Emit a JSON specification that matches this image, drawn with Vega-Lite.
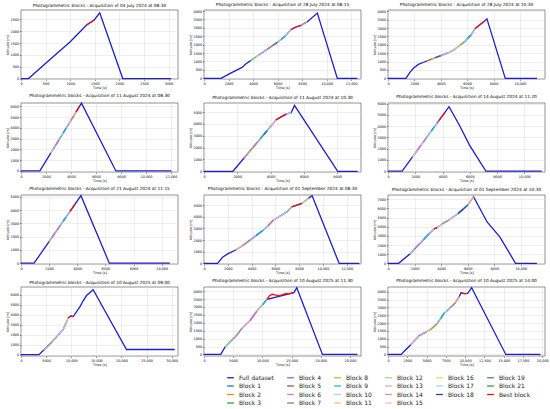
{
  "$schema": "https://vega.github.io/schema/vega-lite/v6.json",
  "padding": {"left": 4, "top": 2, "right": 2, "bottom": 2},
  "background": "white",
  "data": {"values": [
    {"p":1,"s":"Full dataset","t":0,"a":0},{"p":1,"s":"Full dataset","t":153,"a":0},{"p":1,"s":"Full dataset","t":520,"a":680},{"p":1,"s":"Full dataset","t":1000,"a":1560},{"p":1,"s":"Full dataset","t":1333,"a":2265},{"p":1,"s":"Full dataset","t":1487,"a":2480},{"p":1,"s":"Full dataset","t":1600,"a":2780},{"p":1,"s":"Full dataset","t":2067,"a":0},{"p":1,"s":"Full dataset","t":3050,"a":0},
    {"p":1,"s":"Best block","t":1333,"a":2265},{"p":1,"s":"Best block","t":1487,"a":2480},

    {"p":2,"s":"Full dataset","t":0,"a":0},{"p":2,"s":"Full dataset","t":1390,"a":0},{"p":2,"s":"Full dataset","t":2100,"a":280},{"p":2,"s":"Full dataset","t":3100,"a":650},{"p":2,"s":"Full dataset","t":3400,"a":850},{"p":2,"s":"Full dataset","t":3800,"a":1050},{"p":2,"s":"Full dataset","t":4200,"a":1250},{"p":2,"s":"Full dataset","t":4500,"a":1400},{"p":2,"s":"Full dataset","t":5200,"a":1750},{"p":2,"s":"Full dataset","t":5600,"a":1950},{"p":2,"s":"Full dataset","t":6000,"a":2150},{"p":2,"s":"Full dataset","t":6300,"a":2320},{"p":2,"s":"Full dataset","t":6600,"a":2500},{"p":2,"s":"Full dataset","t":7100,"a":2900},{"p":2,"s":"Full dataset","t":7500,"a":3050},{"p":2,"s":"Full dataset","t":7900,"a":3150},{"p":2,"s":"Full dataset","t":8400,"a":3350},{"p":2,"s":"Full dataset","t":9240,"a":3880},{"p":2,"s":"Full dataset","t":10870,"a":0},{"p":2,"s":"Full dataset","t":12500,"a":0},
    {"p":2,"s":"Block 12","t":3800,"a":1050},{"p":2,"s":"Block 12","t":4200,"a":1250},
    {"p":2,"s":"Block 16","t":4200,"a":1250},{"p":2,"s":"Block 16","t":4500,"a":1400},
    {"p":2,"s":"Block 13","t":4500,"a":1400},{"p":2,"s":"Block 13","t":5200,"a":1750},
    {"p":2,"s":"Block 6","t":5200,"a":1750},{"p":2,"s":"Block 6","t":5600,"a":1950},
    {"p":2,"s":"Block 7","t":5600,"a":1950},{"p":2,"s":"Block 7","t":6000,"a":2150},
    {"p":2,"s":"Block 17","t":6000,"a":2150},{"p":2,"s":"Block 17","t":6300,"a":2320},
    {"p":2,"s":"Block 9","t":6300,"a":2320},{"p":2,"s":"Block 9","t":6600,"a":2500},
    {"p":2,"s":"Block 10","t":6600,"a":2500},{"p":2,"s":"Block 10","t":7100,"a":2900},
    {"p":2,"s":"Best block","t":7100,"a":2900},{"p":2,"s":"Best block","t":7500,"a":3050},{"p":2,"s":"Best block","t":7900,"a":3150},
    {"p":2,"s":"Block 14","t":7900,"a":3150},{"p":2,"s":"Block 14","t":8400,"a":3350},

    {"p":3,"s":"Full dataset","t":0,"a":0},{"p":3,"s":"Full dataset","t":1360,"a":0},{"p":3,"s":"Full dataset","t":1700,"a":400},{"p":3,"s":"Full dataset","t":1950,"a":620},{"p":3,"s":"Full dataset","t":2300,"a":830},{"p":3,"s":"Full dataset","t":2700,"a":960},{"p":3,"s":"Full dataset","t":3000,"a":1050},{"p":3,"s":"Full dataset","t":3300,"a":1150},{"p":3,"s":"Full dataset","t":3600,"a":1240},{"p":3,"s":"Full dataset","t":4000,"a":1360},{"p":3,"s":"Full dataset","t":4500,"a":1500},{"p":3,"s":"Full dataset","t":5000,"a":1700},{"p":3,"s":"Full dataset","t":5500,"a":2000},{"p":3,"s":"Full dataset","t":5750,"a":2150},{"p":3,"s":"Full dataset","t":6000,"a":2350},{"p":3,"s":"Full dataset","t":6300,"a":2600},{"p":3,"s":"Full dataset","t":6600,"a":2970},{"p":3,"s":"Full dataset","t":7330,"a":3420},{"p":3,"s":"Full dataset","t":7500,"a":3550},{"p":3,"s":"Full dataset","t":8890,"a":0},{"p":3,"s":"Full dataset","t":11300,"a":0},
    {"p":3,"s":"Block 2","t":3000,"a":1050},{"p":3,"s":"Block 2","t":3300,"a":1150},
    {"p":3,"s":"Block 12","t":3300,"a":1150},{"p":3,"s":"Block 12","t":3600,"a":1240},
    {"p":3,"s":"Block 5","t":3600,"a":1240},{"p":3,"s":"Block 5","t":4000,"a":1360},
    {"p":3,"s":"Block 13","t":4000,"a":1360},{"p":3,"s":"Block 13","t":4500,"a":1500},
    {"p":3,"s":"Block 15","t":4500,"a":1500},{"p":3,"s":"Block 15","t":5000,"a":1700},
    {"p":3,"s":"Block 16","t":5000,"a":1700},{"p":3,"s":"Block 16","t":5500,"a":2000},
    {"p":3,"s":"Block 8","t":5500,"a":2000},{"p":3,"s":"Block 8","t":5750,"a":2150},
    {"p":3,"s":"Block 17","t":5750,"a":2150},{"p":3,"s":"Block 17","t":6000,"a":2350},
    {"p":3,"s":"Block 9","t":6000,"a":2350},{"p":3,"s":"Block 9","t":6300,"a":2600},
    {"p":3,"s":"Block 10","t":6300,"a":2600},{"p":3,"s":"Block 10","t":6600,"a":2970},
    {"p":3,"s":"Best block","t":6600,"a":2970},{"p":3,"s":"Best block","t":7330,"a":3420},

    {"p":4,"s":"Full dataset","t":0,"a":0},{"p":4,"s":"Full dataset","t":1510,"a":0},{"p":4,"s":"Full dataset","t":4840,"a":6290},{"p":4,"s":"Full dataset","t":7590,"a":0},{"p":4,"s":"Full dataset","t":12040,"a":0},
    {"p":4,"s":"Block 16","t":2380,"a":1643},{"p":4,"s":"Block 16","t":2600,"a":2059},
    {"p":4,"s":"Block 13","t":2600,"a":2059},{"p":4,"s":"Block 13","t":2800,"a":2437},
    {"p":4,"s":"Block 6","t":2800,"a":2437},{"p":4,"s":"Block 6","t":3000,"a":2815},
    {"p":4,"s":"Block 12","t":3000,"a":2815},{"p":4,"s":"Block 12","t":3200,"a":3192},
    {"p":4,"s":"Block 17","t":3200,"a":3192},{"p":4,"s":"Block 17","t":3400,"a":3570},
    {"p":4,"s":"Block 9","t":3400,"a":3570},{"p":4,"s":"Block 9","t":3600,"a":3948},
    {"p":4,"s":"Block 10","t":3600,"a":3948},{"p":4,"s":"Block 10","t":3800,"a":4326},
    {"p":4,"s":"Block 15","t":3800,"a":4326},{"p":4,"s":"Block 15","t":4000,"a":4704},
    {"p":4,"s":"Block 14","t":4000,"a":4704},{"p":4,"s":"Block 14","t":4200,"a":5082},
    {"p":4,"s":"Block 11","t":4200,"a":5082},{"p":4,"s":"Block 11","t":4420,"a":5497},
    {"p":4,"s":"Best block","t":4420,"a":5497},{"p":4,"s":"Best block","t":4680,"a":5988},

    {"p":5,"s":"Full dataset","t":0,"a":0},{"p":5,"s":"Full dataset","t":1740,"a":0},{"p":5,"s":"Full dataset","t":4340,"a":4350},{"p":5,"s":"Full dataset","t":4640,"a":4600},{"p":5,"s":"Full dataset","t":4940,"a":4830},{"p":5,"s":"Full dataset","t":5240,"a":4950},{"p":5,"s":"Full dataset","t":5440,"a":5570},{"p":5,"s":"Full dataset","t":8040,"a":0},{"p":5,"s":"Full dataset","t":9240,"a":0},
    {"p":5,"s":"Block 14","t":2400,"a":1104},{"p":5,"s":"Block 14","t":2600,"a":1439},
    {"p":5,"s":"Block 13","t":2600,"a":1439},{"p":5,"s":"Block 13","t":2800,"a":1773},
    {"p":5,"s":"Block 8","t":2800,"a":1773},{"p":5,"s":"Block 8","t":3000,"a":2108},
    {"p":5,"s":"Block 6","t":3000,"a":2108},{"p":5,"s":"Block 6","t":3200,"a":2443},
    {"p":5,"s":"Block 12","t":3200,"a":2443},{"p":5,"s":"Block 12","t":3400,"a":2777},
    {"p":5,"s":"Block 9","t":3400,"a":2777},{"p":5,"s":"Block 9","t":3600,"a":3112},
    {"p":5,"s":"Block 1","t":3600,"a":3112},{"p":5,"s":"Block 1","t":3800,"a":3446},
    {"p":5,"s":"Block 10","t":3800,"a":3446},{"p":5,"s":"Block 10","t":4000,"a":3781},
    {"p":5,"s":"Block 15","t":4000,"a":3781},{"p":5,"s":"Block 15","t":4340,"a":4350},
    {"p":5,"s":"Best block","t":4340,"a":4350},{"p":5,"s":"Best block","t":4640,"a":4600},{"p":5,"s":"Best block","t":4940,"a":4830},
    {"p":5,"s":"Block 17","t":4940,"a":4830},{"p":5,"s":"Block 17","t":5240,"a":4950},

    {"p":6,"s":"Full dataset","t":0,"a":0},{"p":6,"s":"Full dataset","t":1040,"a":0},{"p":6,"s":"Full dataset","t":4480,"a":5720},{"p":6,"s":"Full dataset","t":5250,"a":4050},{"p":6,"s":"Full dataset","t":5980,"a":2310},{"p":6,"s":"Full dataset","t":7180,"a":0},{"p":6,"s":"Full dataset","t":11280,"a":0},
    {"p":6,"s":"Block 16","t":1800,"a":1264},{"p":6,"s":"Block 16","t":2000,"a":1596},
    {"p":6,"s":"Block 13","t":2000,"a":1596},{"p":6,"s":"Block 13","t":2200,"a":1929},
    {"p":6,"s":"Block 6","t":2200,"a":1929},{"p":6,"s":"Block 6","t":2400,"a":2262},
    {"p":6,"s":"Block 15","t":2400,"a":2262},{"p":6,"s":"Block 15","t":2600,"a":2594},
    {"p":6,"s":"Block 14","t":2600,"a":2594},{"p":6,"s":"Block 14","t":2800,"a":2927},
    {"p":6,"s":"Block 12","t":2800,"a":2927},{"p":6,"s":"Block 12","t":3000,"a":3259},
    {"p":6,"s":"Block 17","t":3000,"a":3259},{"p":6,"s":"Block 17","t":3200,"a":3592},
    {"p":6,"s":"Block 9","t":3200,"a":3592},{"p":6,"s":"Block 9","t":3400,"a":3925},
    {"p":6,"s":"Block 10","t":3400,"a":3925},{"p":6,"s":"Block 10","t":3600,"a":4257},
    {"p":6,"s":"Block 4","t":3600,"a":4257},{"p":6,"s":"Block 4","t":3760,"a":4523},
    {"p":6,"s":"Best block","t":3760,"a":4523},{"p":6,"s":"Best block","t":4170,"a":5205},

    {"p":7,"s":"Full dataset","t":0,"a":0},{"p":7,"s":"Full dataset","t":930,"a":0},{"p":7,"s":"Full dataset","t":4260,"a":5080},{"p":7,"s":"Full dataset","t":6280,"a":0},{"p":7,"s":"Full dataset","t":10580,"a":0},
    {"p":7,"s":"Block 12","t":2000,"a":1632},{"p":7,"s":"Block 12","t":2200,"a":1937},
    {"p":7,"s":"Block 6","t":2200,"a":1937},{"p":7,"s":"Block 6","t":2400,"a":2243},
    {"p":7,"s":"Block 13","t":2400,"a":2243},{"p":7,"s":"Block 13","t":2600,"a":2548},
    {"p":7,"s":"Block 14","t":2600,"a":2548},{"p":7,"s":"Block 14","t":2800,"a":2853},
    {"p":7,"s":"Block 17","t":2800,"a":2853},{"p":7,"s":"Block 17","t":3000,"a":3158},
    {"p":7,"s":"Block 9","t":3000,"a":3158},{"p":7,"s":"Block 9","t":3200,"a":3463},
    {"p":7,"s":"Block 10","t":3200,"a":3463},{"p":7,"s":"Block 10","t":3490,"a":3905},
    {"p":7,"s":"Best block","t":3490,"a":3905},{"p":7,"s":"Best block","t":3840,"a":4439},

    {"p":8,"s":"Full dataset","t":0,"a":0},{"p":8,"s":"Full dataset","t":1140,"a":0},{"p":8,"s":"Full dataset","t":1560,"a":520},{"p":8,"s":"Full dataset","t":1990,"a":810},{"p":8,"s":"Full dataset","t":2700,"a":1160},{"p":8,"s":"Full dataset","t":3300,"a":1560},{"p":8,"s":"Full dataset","t":3840,"a":1970},{"p":8,"s":"Full dataset","t":4400,"a":2400},{"p":8,"s":"Full dataset","t":4970,"a":2830},{"p":8,"s":"Full dataset","t":5400,"a":3250},{"p":8,"s":"Full dataset","t":5820,"a":3700},{"p":8,"s":"Full dataset","t":6400,"a":4070},{"p":8,"s":"Full dataset","t":6960,"a":4420},{"p":8,"s":"Full dataset","t":7390,"a":4855},{"p":8,"s":"Full dataset","t":7810,"a":5000},{"p":8,"s":"Full dataset","t":8240,"a":5145},{"p":8,"s":"Full dataset","t":8800,"a":5600},{"p":8,"s":"Full dataset","t":9090,"a":5800},{"p":8,"s":"Full dataset","t":11360,"a":0},{"p":8,"s":"Full dataset","t":13070,"a":0},
    {"p":8,"s":"Block 11","t":2700,"a":1160},{"p":8,"s":"Block 11","t":3300,"a":1560},
    {"p":8,"s":"Block 14","t":3300,"a":1560},{"p":8,"s":"Block 14","t":3840,"a":1970},
    {"p":8,"s":"Block 13","t":3840,"a":1970},{"p":8,"s":"Block 13","t":4400,"a":2400},
    {"p":8,"s":"Block 9","t":4400,"a":2400},{"p":8,"s":"Block 9","t":4970,"a":2830},
    {"p":8,"s":"Block 17","t":4970,"a":2830},{"p":8,"s":"Block 17","t":5400,"a":3250},
    {"p":8,"s":"Block 6","t":5400,"a":3250},{"p":8,"s":"Block 6","t":5820,"a":3700},
    {"p":8,"s":"Block 15","t":5820,"a":3700},{"p":8,"s":"Block 15","t":6400,"a":4070},
    {"p":8,"s":"Block 10","t":6400,"a":4070},{"p":8,"s":"Block 10","t":6960,"a":4420},
    {"p":8,"s":"Block 12","t":6960,"a":4420},{"p":8,"s":"Block 12","t":7390,"a":4855},
    {"p":8,"s":"Best block","t":7390,"a":4855},{"p":8,"s":"Best block","t":7810,"a":5000},{"p":8,"s":"Best block","t":8240,"a":5145},
    {"p":8,"s":"Block 16","t":8240,"a":5145},{"p":8,"s":"Block 16","t":8800,"a":5600},

    {"p":9,"s":"Full dataset","t":0,"a":0},{"p":9,"s":"Full dataset","t":800,"a":0},{"p":9,"s":"Full dataset","t":1650,"a":1030},{"p":9,"s":"Full dataset","t":2000,"a":1565},{"p":9,"s":"Full dataset","t":2370,"a":2130},{"p":9,"s":"Full dataset","t":2700,"a":2630},{"p":9,"s":"Full dataset","t":3100,"a":3240},{"p":9,"s":"Full dataset","t":3460,"a":3750},{"p":9,"s":"Full dataset","t":3700,"a":3900},{"p":9,"s":"Full dataset","t":4100,"a":4330},{"p":9,"s":"Full dataset","t":4550,"a":4710},{"p":9,"s":"Full dataset","t":4900,"a":5060},{"p":9,"s":"Full dataset","t":5280,"a":5440},{"p":9,"s":"Full dataset","t":5650,"a":5910},{"p":9,"s":"Full dataset","t":6000,"a":6360},{"p":9,"s":"Full dataset","t":6440,"a":7280},{"p":9,"s":"Full dataset","t":7460,"a":4520},{"p":9,"s":"Full dataset","t":8430,"a":2870},{"p":9,"s":"Full dataset","t":9600,"a":0},{"p":9,"s":"Full dataset","t":11210,"a":0},
    {"p":9,"s":"Block 12","t":1650,"a":1030},{"p":9,"s":"Block 12","t":2000,"a":1565},
    {"p":9,"s":"Block 6","t":2000,"a":1565},{"p":9,"s":"Block 6","t":2370,"a":2130},
    {"p":9,"s":"Block 13","t":2370,"a":2130},{"p":9,"s":"Block 13","t":2700,"a":2630},
    {"p":9,"s":"Block 9","t":2700,"a":2630},{"p":9,"s":"Block 9","t":3100,"a":3240},
    {"p":9,"s":"Block 10","t":3100,"a":3240},{"p":9,"s":"Block 10","t":3460,"a":3750},
    {"p":9,"s":"Best block","t":3460,"a":3750},{"p":9,"s":"Best block","t":3700,"a":3900},
    {"p":9,"s":"Block 16","t":3700,"a":3900},{"p":9,"s":"Block 16","t":4100,"a":4330},
    {"p":9,"s":"Block 14","t":4100,"a":4330},{"p":9,"s":"Block 14","t":4550,"a":4710},
    {"p":9,"s":"Block 15","t":4550,"a":4710},{"p":9,"s":"Block 15","t":4900,"a":5060},
    {"p":9,"s":"Block 17","t":4900,"a":5060},{"p":9,"s":"Block 17","t":5280,"a":5440},
    {"p":9,"s":"Block 18","t":5280,"a":5440},{"p":9,"s":"Block 18","t":5650,"a":5910},
    {"p":9,"s":"Block 1","t":5650,"a":5910},{"p":9,"s":"Block 1","t":6000,"a":6360},
    {"p":9,"s":"Block 11","t":6000,"a":6360},{"p":9,"s":"Block 11","t":6440,"a":7280},

    {"p":10,"s":"Full dataset","t":0,"a":0},{"p":10,"s":"Full dataset","t":3580,"a":0},{"p":10,"s":"Full dataset","t":4500,"a":450},{"p":10,"s":"Full dataset","t":5300,"a":843},{"p":10,"s":"Full dataset","t":6090,"a":1230},{"p":10,"s":"Full dataset","t":7000,"a":1736},{"p":10,"s":"Full dataset","t":7700,"a":2125},{"p":10,"s":"Full dataset","t":8410,"a":2520},{"p":10,"s":"Full dataset","t":8900,"a":3080},{"p":10,"s":"Full dataset","t":9400,"a":3650},{"p":10,"s":"Full dataset","t":9900,"a":3870},{"p":10,"s":"Full dataset","t":10400,"a":3800},{"p":10,"s":"Full dataset","t":11720,"a":4770},{"p":10,"s":"Full dataset","t":12400,"a":5400},{"p":10,"s":"Full dataset","t":13050,"a":5900},{"p":10,"s":"Full dataset","t":14370,"a":6480},{"p":10,"s":"Full dataset","t":21000,"a":520},{"p":10,"s":"Full dataset","t":30600,"a":520},
    {"p":10,"s":"Block 13","t":4500,"a":450},{"p":10,"s":"Block 13","t":5300,"a":843},
    {"p":10,"s":"Block 14","t":5300,"a":843},{"p":10,"s":"Block 14","t":6090,"a":1230},
    {"p":10,"s":"Block 12","t":6090,"a":1230},{"p":10,"s":"Block 12","t":7000,"a":1736},
    {"p":10,"s":"Block 15","t":7000,"a":1736},{"p":10,"s":"Block 15","t":7700,"a":2125},
    {"p":10,"s":"Block 17","t":7700,"a":2125},{"p":10,"s":"Block 17","t":8410,"a":2520},
    {"p":10,"s":"Block 10","t":8410,"a":2520},{"p":10,"s":"Block 10","t":8900,"a":3080},
    {"p":10,"s":"Block 16","t":8900,"a":3080},{"p":10,"s":"Block 16","t":9400,"a":3650},
    {"p":10,"s":"Best block","t":9400,"a":3650},{"p":10,"s":"Best block","t":9900,"a":3870},{"p":10,"s":"Best block","t":10400,"a":3800},

    {"p":11,"s":"Full dataset","t":0,"a":0},{"p":11,"s":"Full dataset","t":2870,"a":0},{"p":11,"s":"Full dataset","t":3620,"a":480},{"p":11,"s":"Full dataset","t":5060,"a":1010},{"p":11,"s":"Full dataset","t":5630,"a":1220},{"p":11,"s":"Full dataset","t":6490,"a":1640},{"p":11,"s":"Full dataset","t":7930,"a":2160},{"p":11,"s":"Full dataset","t":9000,"a":2700},{"p":11,"s":"Full dataset","t":9650,"a":3000},{"p":11,"s":"Full dataset","t":10100,"a":3160},{"p":11,"s":"Full dataset","t":10600,"a":3400},{"p":11,"s":"Full dataset","t":10800,"a":3480},{"p":11,"s":"Full dataset","t":15400,"a":3900},{"p":11,"s":"Full dataset","t":15900,"a":4210},{"p":11,"s":"Full dataset","t":20290,"a":0},{"p":11,"s":"Full dataset","t":26300,"a":0},
    {"p":11,"s":"Block 12","t":3620,"a":480},{"p":11,"s":"Block 12","t":5060,"a":1010},
    {"p":11,"s":"Block 13","t":5060,"a":1010},{"p":11,"s":"Block 13","t":5630,"a":1220},
    {"p":11,"s":"Block 14","t":5630,"a":1220},{"p":11,"s":"Block 14","t":6490,"a":1640},
    {"p":11,"s":"Block 15","t":6490,"a":1640},{"p":11,"s":"Block 15","t":7930,"a":2160},
    {"p":11,"s":"Block 6","t":7930,"a":2160},{"p":11,"s":"Block 6","t":9000,"a":2700},
    {"p":11,"s":"Block 16","t":9000,"a":2700},{"p":11,"s":"Block 16","t":9650,"a":3000},
    {"p":11,"s":"Block 17","t":9650,"a":3000},{"p":11,"s":"Block 17","t":10100,"a":3160},
    {"p":11,"s":"Block 9","t":10100,"a":3160},{"p":11,"s":"Block 9","t":10600,"a":3400},
    {"p":11,"s":"Block 10","t":10600,"a":3400},{"p":11,"s":"Block 10","t":10800,"a":3480},
    {"p":11,"s":"Best block","t":10800,"a":3480},{"p":11,"s":"Best block","t":11200,"a":3700},{"p":11,"s":"Best block","t":11700,"a":3800},{"p":11,"s":"Best block","t":12300,"a":3740},{"p":11,"s":"Best block","t":12900,"a":3720},{"p":11,"s":"Best block","t":13500,"a":3780},{"p":11,"s":"Best block","t":14000,"a":3850},{"p":11,"s":"Best block","t":14500,"a":3830},{"p":11,"s":"Best block","t":15000,"a":3870},{"p":11,"s":"Best block","t":15400,"a":3900},

    {"p":12,"s":"Full dataset","t":0,"a":0},{"p":12,"s":"Full dataset","t":1720,"a":0},{"p":12,"s":"Full dataset","t":2100,"a":200},{"p":12,"s":"Full dataset","t":2950,"a":620},{"p":12,"s":"Full dataset","t":4050,"a":1200},{"p":12,"s":"Full dataset","t":4900,"a":1420},{"p":12,"s":"Full dataset","t":5550,"a":1600},{"p":12,"s":"Full dataset","t":6250,"a":1900},{"p":12,"s":"Full dataset","t":6850,"a":2300},{"p":12,"s":"Full dataset","t":7300,"a":2650},{"p":12,"s":"Full dataset","t":7700,"a":2800},{"p":12,"s":"Full dataset","t":8100,"a":3000},{"p":12,"s":"Full dataset","t":8650,"a":3250},{"p":12,"s":"Full dataset","t":9250,"a":3700},{"p":12,"s":"Full dataset","t":9460,"a":3930},{"p":12,"s":"Full dataset","t":9900,"a":3880},{"p":12,"s":"Full dataset","t":10320,"a":3900},{"p":12,"s":"Full dataset","t":10840,"a":4260},{"p":12,"s":"Full dataset","t":15270,"a":0},{"p":12,"s":"Full dataset","t":19780,"a":0},
    {"p":12,"s":"Block 15","t":2950,"a":620},{"p":12,"s":"Block 15","t":4050,"a":1200},
    {"p":12,"s":"Block 13","t":4050,"a":1200},{"p":12,"s":"Block 13","t":4900,"a":1420},
    {"p":12,"s":"Block 16","t":4900,"a":1420},{"p":12,"s":"Block 16","t":5550,"a":1600},
    {"p":12,"s":"Block 8","t":5550,"a":1600},{"p":12,"s":"Block 8","t":6250,"a":1900},
    {"p":12,"s":"Block 12","t":6250,"a":1900},{"p":12,"s":"Block 12","t":6850,"a":2300},
    {"p":12,"s":"Block 9","t":6850,"a":2300},{"p":12,"s":"Block 9","t":7300,"a":2650},
    {"p":12,"s":"Block 17","t":7300,"a":2650},{"p":12,"s":"Block 17","t":7700,"a":2800},
    {"p":12,"s":"Block 10","t":7700,"a":2800},{"p":12,"s":"Block 10","t":8100,"a":3000},
    {"p":12,"s":"Block 14","t":8100,"a":3000},{"p":12,"s":"Block 14","t":8650,"a":3250},
    {"p":12,"s":"Block 11","t":8650,"a":3250},{"p":12,"s":"Block 11","t":9250,"a":3700},
    {"p":12,"s":"Best block","t":9460,"a":3930},{"p":12,"s":"Best block","t":9900,"a":3880},{"p":12,"s":"Best block","t":10320,"a":3900}
  ]},
  "columns": 3,
  "spacing": {"row": 3, "column": 8},
  "concat": [
    {"title": "Photogrammetric blocks - Acquisition of 04 July 2024 at 08:30",
     "transform": [{"filter": "datum.p == 1"}],
     "encoding": {
       "x": {"field": "t", "type": "quantitative", "title": "Time [s]", "scale": {"domain": [0, 3190]}, "axis": {"values": [0, 500, 1000, 1500, 2000, 2500, 3000]}},
       "y": {"field": "a", "type": "quantitative", "title": "Altitude [m]", "scale": {"domain": [-20, 2900]}, "axis": {"values": [0, 500, 1000, 1500, 2000, 2500]}},
       "color": {"field": "s", "type": "nominal", "legend": {"title": null},
         "scale": {"domain": ["Full dataset","Block 4","Block 8","Block 12","Block 16","Block 19","Block 1","Block 5","Block 9","Block 13","Block 17","Block 21","Block 2","Block 6","Block 10","Block 14","Block 18","Best block","Block 3","Block 7","Block 11","Block 15"],
                   "range": ["#1f1fc8","#9467bd","#bcbd22","#98df8a","#dbdb8d","#3b7fb8","#1f77b4","#8c564b","#17becf","#c5b0d5","#9edae5","#2ca02c","#ff7f0e","#e377c2","#aec7e8","#c49c94","#393b79","#ee1111","#2ca02c","#7f7f7f","#ffbb78","#f7b6d2"]}}
     },
     "layer": [
       {"transform": [{"filter": "datum.s == 'Full dataset'"}], "mark": "line"},
       {"transform": [{"filter": "datum.s != 'Full dataset'"}], "mark": "line"}
     ]},
    {"title": "Photogrammetric blocks - Acquisition of 28 July 2024 at 08:15",
     "transform": [{"filter": "datum.p == 2"}],
     "encoding": {
       "x": {"field": "t", "type": "quantitative", "title": "Time [s]", "scale": {"domain": [0, 12800]}, "axis": {"values": [0, 2000, 4000, 6000, 8000, 10000, 12000]}},
       "y": {"field": "a", "type": "quantitative", "title": "Altitude [m]", "scale": {"domain": [-40, 4060]}, "axis": {"values": [0, 500, 1000, 1500, 2000, 2500, 3000, 3500, 4000]}},
       "color": {"field": "s", "type": "nominal", "legend": {"title": null},
         "scale": {"domain": ["Full dataset","Block 4","Block 8","Block 12","Block 16","Block 19","Block 1","Block 5","Block 9","Block 13","Block 17","Block 21","Block 2","Block 6","Block 10","Block 14","Block 18","Best block","Block 3","Block 7","Block 11","Block 15"],
                   "range": ["#1f1fc8","#9467bd","#bcbd22","#98df8a","#dbdb8d","#3b7fb8","#1f77b4","#8c564b","#17becf","#c5b0d5","#9edae5","#2ca02c","#ff7f0e","#e377c2","#aec7e8","#c49c94","#393b79","#ee1111","#2ca02c","#7f7f7f","#ffbb78","#f7b6d2"]}}
     },
     "layer": [
       {"transform": [{"filter": "datum.s == 'Full dataset'"}], "mark": "line"},
       {"transform": [{"filter": "datum.s != 'Full dataset'"}], "mark": "line"}
     ]},
    {"title": "Photogrammetric blocks - Acquisition of 28 July 2024 at 10:30",
     "transform": [{"filter": "datum.p == 3"}],
     "encoding": {
       "x": {"field": "t", "type": "quantitative", "title": "Time [s]", "scale": {"domain": [0, 11900]}, "axis": {"values": [0, 2000, 4000, 6000, 8000, 10000]}},
       "y": {"field": "a", "type": "quantitative", "title": "Altitude [m]", "scale": {"domain": [-40, 4080]}, "axis": {"values": [0, 500, 1000, 1500, 2000, 2500, 3000, 3500, 4000]}},
       "color": {"field": "s", "type": "nominal", "legend": {"title": null},
         "scale": {"domain": ["Full dataset","Block 4","Block 8","Block 12","Block 16","Block 19","Block 1","Block 5","Block 9","Block 13","Block 17","Block 21","Block 2","Block 6","Block 10","Block 14","Block 18","Best block","Block 3","Block 7","Block 11","Block 15"],
                   "range": ["#1f1fc8","#9467bd","#bcbd22","#98df8a","#dbdb8d","#3b7fb8","#1f77b4","#8c564b","#17becf","#c5b0d5","#9edae5","#2ca02c","#ff7f0e","#e377c2","#aec7e8","#c49c94","#393b79","#ee1111","#2ca02c","#7f7f7f","#ffbb78","#f7b6d2"]}}
     },
     "layer": [
       {"transform": [{"filter": "datum.s == 'Full dataset'"}], "mark": "line"},
       {"transform": [{"filter": "datum.s != 'Full dataset'"}], "mark": "line"}
     ]},
    {"title": "Photogrammetric blocks - Acquisition of 11 August 2024 at 08:30",
     "transform": [{"filter": "datum.p == 4"}],
     "encoding": {
       "x": {"field": "t", "type": "quantitative", "title": "Time [s]", "scale": {"domain": [0, 12560]}, "axis": {"values": [0, 2000, 4000, 6000, 8000, 10000, 12000]}},
       "y": {"field": "a", "type": "quantitative", "title": "Altitude [m]", "scale": {"domain": [-100, 6300]}, "axis": {"values": [0, 1000, 2000, 3000, 4000, 5000, 6000]}},
       "color": {"field": "s", "type": "nominal", "legend": {"title": null},
         "scale": {"domain": ["Full dataset","Block 4","Block 8","Block 12","Block 16","Block 19","Block 1","Block 5","Block 9","Block 13","Block 17","Block 21","Block 2","Block 6","Block 10","Block 14","Block 18","Best block","Block 3","Block 7","Block 11","Block 15"],
                   "range": ["#1f1fc8","#9467bd","#bcbd22","#98df8a","#dbdb8d","#3b7fb8","#1f77b4","#8c564b","#17becf","#c5b0d5","#9edae5","#2ca02c","#ff7f0e","#e377c2","#aec7e8","#c49c94","#393b79","#ee1111","#2ca02c","#7f7f7f","#ffbb78","#f7b6d2"]}}
     },
     "layer": [
       {"transform": [{"filter": "datum.s == 'Full dataset'"}], "mark": "line"},
       {"transform": [{"filter": "datum.s != 'Full dataset'"}], "mark": "line"}
     ]},
    {"title": "Photogrammetric blocks - Acquisition of 11 August 2024 at 10:30",
     "transform": [{"filter": "datum.p == 5"}],
     "encoding": {
       "x": {"field": "t", "type": "quantitative", "title": "Time [s]", "scale": {"domain": [0, 9440]}, "axis": {"values": [0, 2000, 4000, 6000, 8000]}},
       "y": {"field": "a", "type": "quantitative", "title": "Altitude [m]", "scale": {"domain": [-60, 5770]}, "axis": {"values": [0, 1000, 2000, 3000, 4000, 5000]}},
       "color": {"field": "s", "type": "nominal", "legend": {"title": null},
         "scale": {"domain": ["Full dataset","Block 4","Block 8","Block 12","Block 16","Block 19","Block 1","Block 5","Block 9","Block 13","Block 17","Block 21","Block 2","Block 6","Block 10","Block 14","Block 18","Best block","Block 3","Block 7","Block 11","Block 15"],
                   "range": ["#1f1fc8","#9467bd","#bcbd22","#98df8a","#dbdb8d","#3b7fb8","#1f77b4","#8c564b","#17becf","#c5b0d5","#9edae5","#2ca02c","#ff7f0e","#e377c2","#aec7e8","#c49c94","#393b79","#ee1111","#2ca02c","#7f7f7f","#ffbb78","#f7b6d2"]}}
     },
     "layer": [
       {"transform": [{"filter": "datum.s == 'Full dataset'"}], "mark": "line"},
       {"transform": [{"filter": "datum.s != 'Full dataset'"}], "mark": "line"}
     ]},
    {"title": "Photogrammetric blocks - Acquisition of 14 August 2024 at 11:20",
     "transform": [{"filter": "datum.p == 6"}],
     "encoding": {
       "x": {"field": "t", "type": "quantitative", "title": "Time [s]", "scale": {"domain": [0, 11520]}, "axis": {"values": [0, 2000, 4000, 6000, 8000, 10000]}},
       "y": {"field": "a", "type": "quantitative", "title": "Altitude [m]", "scale": {"domain": [-80, 6050]}, "axis": {"values": [0, 1000, 2000, 3000, 4000, 5000, 6000]}},
       "color": {"field": "s", "type": "nominal", "legend": {"title": null},
         "scale": {"domain": ["Full dataset","Block 4","Block 8","Block 12","Block 16","Block 19","Block 1","Block 5","Block 9","Block 13","Block 17","Block 21","Block 2","Block 6","Block 10","Block 14","Block 18","Best block","Block 3","Block 7","Block 11","Block 15"],
                   "range": ["#1f1fc8","#9467bd","#bcbd22","#98df8a","#dbdb8d","#3b7fb8","#1f77b4","#8c564b","#17becf","#c5b0d5","#9edae5","#2ca02c","#ff7f0e","#e377c2","#aec7e8","#c49c94","#393b79","#ee1111","#2ca02c","#7f7f7f","#ffbb78","#f7b6d2"]}}
     },
     "layer": [
       {"transform": [{"filter": "datum.s == 'Full dataset'"}], "mark": "line"},
       {"transform": [{"filter": "datum.s != 'Full dataset'"}], "mark": "line"}
     ]},
    {"title": "Photogrammetric blocks - Acquisition of 21 August 2024 at 11:15",
     "transform": [{"filter": "datum.p == 7"}],
     "encoding": {
       "x": {"field": "t", "type": "quantitative", "title": "Time [s]", "scale": {"domain": [0, 11160]}, "axis": {"values": [0, 2000, 4000, 6000, 8000, 10000]}},
       "y": {"field": "a", "type": "quantitative", "title": "Altitude [m]", "scale": {"domain": [-60, 5130]}, "axis": {"values": [0, 1000, 2000, 3000, 4000, 5000]}},
       "color": {"field": "s", "type": "nominal", "legend": {"title": null},
         "scale": {"domain": ["Full dataset","Block 4","Block 8","Block 12","Block 16","Block 19","Block 1","Block 5","Block 9","Block 13","Block 17","Block 21","Block 2","Block 6","Block 10","Block 14","Block 18","Best block","Block 3","Block 7","Block 11","Block 15"],
                   "range": ["#1f1fc8","#9467bd","#bcbd22","#98df8a","#dbdb8d","#3b7fb8","#1f77b4","#8c564b","#17becf","#c5b0d5","#9edae5","#2ca02c","#ff7f0e","#e377c2","#aec7e8","#c49c94","#393b79","#ee1111","#2ca02c","#7f7f7f","#ffbb78","#f7b6d2"]}}
     },
     "layer": [
       {"transform": [{"filter": "datum.s == 'Full dataset'"}], "mark": "line"},
       {"transform": [{"filter": "datum.s != 'Full dataset'"}], "mark": "line"}
     ]},
    {"title": "Photogrammetric blocks - Acquisition of 01 September 2024 at 08:30",
     "transform": [{"filter": "datum.p == 8"}],
     "encoding": {
       "x": {"field": "t", "type": "quantitative", "title": "Time [s]", "scale": {"domain": [0, 13200]}, "axis": {"values": [0, 2000, 4000, 6000, 8000, 10000, 12000]}},
       "y": {"field": "a", "type": "quantitative", "title": "Altitude [m]", "scale": {"domain": [-60, 5870]}, "axis": {"values": [0, 1000, 2000, 3000, 4000, 5000]}},
       "color": {"field": "s", "type": "nominal", "legend": {"title": null},
         "scale": {"domain": ["Full dataset","Block 4","Block 8","Block 12","Block 16","Block 19","Block 1","Block 5","Block 9","Block 13","Block 17","Block 21","Block 2","Block 6","Block 10","Block 14","Block 18","Best block","Block 3","Block 7","Block 11","Block 15"],
                   "range": ["#1f1fc8","#9467bd","#bcbd22","#98df8a","#dbdb8d","#3b7fb8","#1f77b4","#8c564b","#17becf","#c5b0d5","#9edae5","#2ca02c","#ff7f0e","#e377c2","#aec7e8","#c49c94","#393b79","#ee1111","#2ca02c","#7f7f7f","#ffbb78","#f7b6d2"]}}
     },
     "layer": [
       {"transform": [{"filter": "datum.s == 'Full dataset'"}], "mark": "line"},
       {"transform": [{"filter": "datum.s != 'Full dataset'"}], "mark": "line"}
     ]},
    {"title": "Photogrammetric blocks - Acquisition of 01 September 2024 at 10:30",
     "transform": [{"filter": "datum.p == 9"}],
     "encoding": {
       "x": {"field": "t", "type": "quantitative", "title": "Time [s]", "scale": {"domain": [0, 11820]}, "axis": {"values": [0, 2000, 4000, 6000, 8000, 10000]}},
       "y": {"field": "a", "type": "quantitative", "title": "Altitude [m]", "scale": {"domain": [-70, 7460]}, "axis": {"values": [0, 1000, 2000, 3000, 4000, 5000, 6000, 7000]}},
       "color": {"field": "s", "type": "nominal", "legend": {"title": null},
         "scale": {"domain": ["Full dataset","Block 4","Block 8","Block 12","Block 16","Block 19","Block 1","Block 5","Block 9","Block 13","Block 17","Block 21","Block 2","Block 6","Block 10","Block 14","Block 18","Best block","Block 3","Block 7","Block 11","Block 15"],
                   "range": ["#1f1fc8","#9467bd","#bcbd22","#98df8a","#dbdb8d","#3b7fb8","#1f77b4","#8c564b","#17becf","#c5b0d5","#9edae5","#2ca02c","#ff7f0e","#e377c2","#aec7e8","#c49c94","#393b79","#ee1111","#2ca02c","#7f7f7f","#ffbb78","#f7b6d2"]}}
     },
     "layer": [
       {"transform": [{"filter": "datum.s == 'Full dataset'"}], "mark": "line"},
       {"transform": [{"filter": "datum.s != 'Full dataset'"}], "mark": "line"}
     ]},
    {"title": "Photogrammetric blocks - Acquisition of 10 August 2025 at 09:00",
     "transform": [{"filter": "datum.p == 10"}],
     "encoding": {
       "x": {"field": "t", "type": "quantitative", "title": "Time [s]", "scale": {"domain": [0, 31260]}, "axis": {"values": [0, 5000, 10000, 15000, 20000, 25000, 30000]}},
       "y": {"field": "a", "type": "quantitative", "title": "Altitude [m]", "scale": {"domain": [-130, 6750]}, "axis": {"values": [0, 1000, 2000, 3000, 4000, 5000, 6000]}},
       "color": {"field": "s", "type": "nominal", "legend": {"title": null},
         "scale": {"domain": ["Full dataset","Block 4","Block 8","Block 12","Block 16","Block 19","Block 1","Block 5","Block 9","Block 13","Block 17","Block 21","Block 2","Block 6","Block 10","Block 14","Block 18","Best block","Block 3","Block 7","Block 11","Block 15"],
                   "range": ["#1f1fc8","#9467bd","#bcbd22","#98df8a","#dbdb8d","#3b7fb8","#1f77b4","#8c564b","#17becf","#c5b0d5","#9edae5","#2ca02c","#ff7f0e","#e377c2","#aec7e8","#c49c94","#393b79","#ee1111","#2ca02c","#7f7f7f","#ffbb78","#f7b6d2"]}}
     },
     "layer": [
       {"transform": [{"filter": "datum.s == 'Full dataset'"}], "mark": "line"},
       {"transform": [{"filter": "datum.s != 'Full dataset'"}], "mark": "line"}
     ]},
    {"title": "Photogrammetric blocks - Acquisition of 10 August 2025 at 11:30",
     "transform": [{"filter": "datum.p == 11"}],
     "encoding": {
       "x": {"field": "t", "type": "quantitative", "title": "Time [s]", "scale": {"domain": [0, 26900]}, "axis": {"values": [0, 5000, 10000, 15000, 20000, 25000]}},
       "y": {"field": "a", "type": "quantitative", "title": "Altitude [m]", "scale": {"domain": [-100, 4260]}, "axis": {"values": [0, 500, 1000, 1500, 2000, 2500, 3000, 3500, 4000]}},
       "color": {"field": "s", "type": "nominal", "legend": {"title": null},
         "scale": {"domain": ["Full dataset","Block 4","Block 8","Block 12","Block 16","Block 19","Block 1","Block 5","Block 9","Block 13","Block 17","Block 21","Block 2","Block 6","Block 10","Block 14","Block 18","Best block","Block 3","Block 7","Block 11","Block 15"],
                   "range": ["#1f1fc8","#9467bd","#bcbd22","#98df8a","#dbdb8d","#3b7fb8","#1f77b4","#8c564b","#17becf","#c5b0d5","#9edae5","#2ca02c","#ff7f0e","#e377c2","#aec7e8","#c49c94","#393b79","#ee1111","#2ca02c","#7f7f7f","#ffbb78","#f7b6d2"]}}
     },
     "layer": [
       {"transform": [{"filter": "datum.s == 'Full dataset'"}], "mark": "line"},
       {"transform": [{"filter": "datum.s != 'Full dataset'"}], "mark": "line"}
     ]},
    {"title": "Photogrammetric blocks - Acquisition of 10 August 2025 at 14:00",
     "transform": [{"filter": "datum.p == 12"}],
     "encoding": {
       "x": {"field": "t", "type": "quantitative", "title": "Time [s]", "scale": {"domain": [0, 20350]}, "axis": {"values": [0, 2500, 5000, 7500, 10000, 12500, 15000, 17500, 20000]}},
       "y": {"field": "a", "type": "quantitative", "title": "Altitude [m]", "scale": {"domain": [-100, 4300]}, "axis": {"values": [0, 500, 1000, 1500, 2000, 2500, 3000, 3500, 4000]}},
       "color": {"field": "s", "type": "nominal", "legend": {"title": null},
         "scale": {"domain": ["Full dataset","Block 4","Block 8","Block 12","Block 16","Block 19","Block 1","Block 5","Block 9","Block 13","Block 17","Block 21","Block 2","Block 6","Block 10","Block 14","Block 18","Best block","Block 3","Block 7","Block 11","Block 15"],
                   "range": ["#1f1fc8","#9467bd","#bcbd22","#98df8a","#dbdb8d","#3b7fb8","#1f77b4","#8c564b","#17becf","#c5b0d5","#9edae5","#2ca02c","#ff7f0e","#e377c2","#aec7e8","#c49c94","#393b79","#ee1111","#2ca02c","#7f7f7f","#ffbb78","#f7b6d2"]}}
     },
     "layer": [
       {"transform": [{"filter": "datum.s == 'Full dataset'"}], "mark": "line"},
       {"transform": [{"filter": "datum.s != 'Full dataset'"}], "mark": "line"}
     ]}
  ],
  "resolve": {"scale": {"color": "shared"}},
  "config": {
    "font": "DejaVu Sans",
    "view": {"continuousWidth": 157, "continuousHeight": 69, "stroke": "#222", "strokeWidth": 0.5},
    "line": {"strokeWidth": 1.3},
    "title": {"fontSize": 4.3, "font": "DejaVu Sans", "fontWeight": "normal", "color": "#000", "offset": 2, "anchor": "middle"},
    "axis": {
      "labelFontSize": 3.4, "titleFontSize": 3.4, "labelFont": "DejaVu Sans", "titleFont": "DejaVu Sans",
      "titleFontWeight": "normal", "labelColor": "#000", "titleColor": "#000",
      "tickSize": 1.5, "tickWidth": 0.4, "tickColor": "#000", "labelPadding": 0.8, "titlePadding": 1,
      "domain": false, "gridColor": "#dcdcdc", "gridWidth": 0.45, "labelFlush": false, "labelOverlap": false,
      "labelExpr": "datum.value >= 10000 ? format(datum.value, ',') : format(datum.value, 'd')"
    },
    "legend": {
      "orient": "none", "legendX": 205, "legendY": 363, "columns": 6, "direction": "horizontal",
      "symbolType": "stroke", "symbolStrokeWidth": 2.6, "symbolSize": 45,
      "labelFontSize": 6, "labelFont": "DejaVu Sans", "labelColor": "#222",
      "rowPadding": 0.5, "columnPadding": 10, "labelOffset": 4
    }
  }
}
